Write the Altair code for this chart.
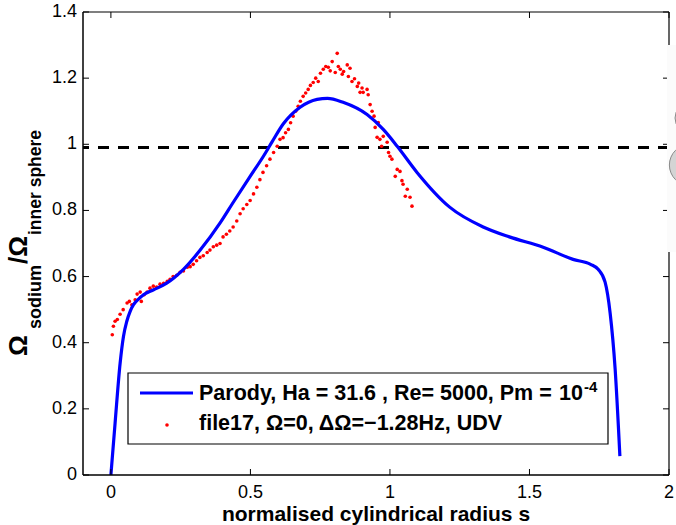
import altair as alt
import pandas as pd

# ---------------- data ----------------
# Parody simulation: Ha = 31.6, Re = 5000, Pm = 1e-4
parody_s = [0.0, 0.015, 0.033, 0.045, 0.057, 0.069, 0.081, 0.099, 0.117, 0.153, 0.200, 0.259,
            0.320, 0.392, 0.438, 0.499, 0.546, 0.578, 0.618, 0.678, 0.739, 0.776, 0.832,
            0.918, 0.976, 1.026, 1.097, 1.214, 1.334, 1.428, 1.549, 1.656, 1.719, 1.746, 1.771,
            1.789, 1.807, 1.824]
parody_omega = [0.0, 0.157, 0.338, 0.419, 0.465, 0.495, 0.515, 0.532, 0.545, 0.56, 0.58, 0.621,
                0.68, 0.763, 0.824, 0.903, 0.963, 1.008, 1.062, 1.112, 1.136, 1.139, 1.127,
                1.09, 1.045, 0.994, 0.915, 0.81, 0.75, 0.72, 0.689, 0.652, 0.637, 0.622, 0.583,
                0.49, 0.32, 0.057]

# file17 UDV measurement
udv_s = [0.005, 0.009, 0.015, 0.023, 0.033, 0.044, 0.058, 0.066, 0.075, 0.087, 0.094, 0.105,
         0.109, 0.119, 0.130, 0.140, 0.152, 0.164, 0.176, 0.189, 0.202, 0.212, 0.223, 0.236,
         0.248, 0.260, 0.274, 0.284, 0.295, 0.307, 0.319, 0.331, 0.345, 0.355, 0.367, 0.379,
         0.391, 0.402, 0.414, 0.426, 0.438, 0.451, 0.463, 0.474, 0.487, 0.499, 0.511, 0.523,
         0.534, 0.545, 0.558, 0.570, 0.583, 0.596, 0.606, 0.617, 0.626, 0.636, 0.644, 0.653,
         0.662, 0.671, 0.679, 0.689, 0.698, 0.707, 0.715, 0.725, 0.734, 0.743, 0.751, 0.761,
         0.770, 0.779, 0.786, 0.793, 0.804, 0.811, 0.815, 0.822, 0.829, 0.834, 0.847, 0.851,
         0.857, 0.864, 0.873, 0.883, 0.888, 0.893, 0.900, 0.904, 0.918, 0.922, 0.929, 0.936,
         0.943, 0.947, 0.954, 0.958, 0.964, 0.970, 0.976, 0.990, 0.995, 1.000, 1.007, 1.019,
         1.026, 1.036, 1.043, 1.047, 1.055, 1.062, 1.072, 1.079]
udv_omega = [0.424, 0.45, 0.465, 0.47, 0.486, 0.50, 0.52, 0.525, 0.515, 0.53, 0.547, 0.553,
             0.525, 0.545, 0.553, 0.565, 0.571, 0.568, 0.577, 0.58, 0.586, 0.592, 0.60, 0.604,
             0.613, 0.617, 0.628, 0.63, 0.637, 0.648, 0.658, 0.663, 0.673, 0.68, 0.69, 0.695,
             0.70, 0.72, 0.728, 0.738, 0.75, 0.768, 0.79, 0.805, 0.818, 0.83, 0.85, 0.87,
             0.893, 0.915, 0.935, 0.955, 0.975, 0.994, 1.015, 1.02, 1.035, 1.045, 1.065, 1.085,
             1.10, 1.115, 1.13, 1.145, 1.155, 1.166, 1.178, 1.187, 1.20, 1.19, 1.215, 1.227,
             1.235, 1.233, 1.222, 1.25, 1.217, 1.275, 1.235, 1.227, 1.212, 1.22, 1.24, 1.205,
             1.23, 1.19, 1.198, 1.175, 1.185, 1.157, 1.17, 1.157, 1.166, 1.15, 1.12, 1.10,
             1.085, 1.051, 1.021, 1.066, 1.015, 0.994, 1.024, 1.006, 0.975, 0.964, 0.955, 0.903,
             0.924, 0.918, 0.89, 0.879, 0.843, 0.864, 0.84, 0.813]

ref_level = [0.99]
x_ticks = [0, 0.5, 1, 1.5, 2]
y_ticks = [0, 0.2, 0.4, 0.6, 0.8, 1.0, 1.2, 1.4]

legend_line1 = "Parody, Ha = 31.6 , Re= 5000, Pm = "
legend_base = "10"
legend_sup = "-4"
legend_line2 = "file17, \u03a9=0, \u0394\u03a9=\u22121.28Hz, UDV"
x_title = "normalised cylindrical radius s"

# ---------------- chart ----------------
W, H = 586, 463
FONT = "Liberation Sans"
xs = alt.Scale(domain=[-0.1, 2], nice=False, zero=False)
ys = alt.Scale(domain=[0, 1.4], nice=False, zero=False)

df_parody = pd.DataFrame({"s": parody_s, "omega": parody_omega})
df_udv = pd.DataFrame({"s": udv_s, "omega": udv_omega})
df_ref = pd.DataFrame({"ref": ref_level})
df_xt = pd.DataFrame({"t": x_ticks})
df_yt = pd.DataFrame({"t": y_ticks})
one = pd.DataFrame({"k": [0]})

X = lambda f: alt.X(f, scale=xs, axis=None)
Y = lambda f: alt.Y(f, scale=ys, axis=None)

ref_rule = alt.Chart(df_ref).mark_rule(color="black", strokeWidth=3, strokeDash=[11, 9]).encode(
    y=Y("ref:Q"))

udv_pts = alt.Chart(df_udv).mark_circle(color="#ff0000", size=13, opacity=1, clip=True).encode(
    x=X("s:Q"), y=Y("omega:Q"))

parody_line = alt.Chart(df_parody).mark_line(color="#0000ff", strokeWidth=3.2, clip=True,
                                             interpolate="monotone").encode(
    x=X("s:Q"), y=Y("omega:Q"))

# frame (MATLAB box)
frame = [
    alt.Chart(one).mark_rule(color="black", strokeWidth=1.5).encode(
        x=alt.value(0), x2=alt.value(W), y=alt.value(H)),
    alt.Chart(one).mark_rule(color="black", strokeWidth=1.5).encode(
        x=alt.value(0), y=alt.value(0), y2=alt.value(H)),
    alt.Chart(one).mark_rule(color="black", strokeWidth=1.2).encode(
        x=alt.value(0), x2=alt.value(W), y=alt.value(0)),
    alt.Chart(one).mark_rule(color="black", strokeWidth=1.2).encode(
        x=alt.value(W), y=alt.value(0), y2=alt.value(H)),
]

TL = 6
ticks = [
    alt.Chart(df_xt).mark_rule(color="black", strokeWidth=1).encode(
        x=X("t:Q"), y=alt.value(H), y2=alt.value(H - TL)),
    alt.Chart(df_xt).mark_rule(color="black", strokeWidth=1).encode(
        x=X("t:Q"), y=alt.value(0), y2=alt.value(TL)),
    alt.Chart(df_yt).mark_rule(color="black", strokeWidth=1).encode(
        y=Y("t:Q"), x=alt.value(0), x2=alt.value(TL)),
    alt.Chart(df_yt).mark_rule(color="black", strokeWidth=1).encode(
        y=Y("t:Q"), x=alt.value(W), x2=alt.value(W - TL)),
]

# overlapping picture at the right edge (whitish panel with grey blobs)
overlay = [
    alt.Chart(one).mark_rect(fill="#fbfbfb").encode(
        x=alt.value(584), x2=alt.value(600), y=alt.value(33), y2=alt.value(240)),
    alt.Chart(one).mark_circle(fill="#d4d4d4", stroke="#8a8a8a", strokeWidth=1, opacity=1,
                               size=900).encode(x=alt.value(607), y=alt.value(106)),
    alt.Chart(one).mark_circle(fill="#d4d4d4", stroke="#8a8a8a", strokeWidth=1, opacity=1,
                               size=1700).encode(x=alt.value(607), y=alt.value(153)),
    alt.Chart(one).mark_circle(fill="#d4d4d4", stroke="#8a8a8a", strokeWidth=1, opacity=1,
                               size=700).encode(x=alt.value(608), y=alt.value(195)),
]

# tick labels
xlab = alt.Chart(df_xt).mark_text(font=FONT, fontSize=18, baseline="alphabetic", align="center",
                                  color="black").encode(
    x=X("t:Q"), y=alt.value(H + 23), text=alt.Text("t:Q", format="~g"))
ylab = alt.Chart(df_yt).mark_text(font=FONT, fontSize=18, baseline="middle", align="right",
                                  color="black").encode(
    y=Y("t:Q"), x=alt.value(-6), text=alt.Text("t:Q", format="~g"))

# legend (drawn manually)
LF = 21.5
leg = [
    alt.Chart(one).mark_rect(fill="white", stroke="black", strokeWidth=1.2).encode(
        x=alt.value(45), x2=alt.value(525), y=alt.value(361), y2=alt.value(432)),
    alt.Chart(one).mark_rule(color="#0000ff", strokeWidth=3.2).encode(
        x=alt.value(57), x2=alt.value(110), y=alt.value(381)),
    alt.Chart(one).mark_circle(color="#ff0000", size=13, opacity=1).encode(
        x=alt.value(84), y=alt.value(413)),
    alt.Chart(one).mark_text(text=legend_line1, font=FONT, fontSize=LF, fontWeight="bold",
                             align="left", baseline="alphabetic", color="black").encode(
        x=alt.value(116), y=alt.value(388)),
    alt.Chart(one).mark_text(text=legend_base, font=FONT, fontSize=LF, fontWeight="bold",
                             align="right", baseline="alphabetic", color="black").encode(
        x=alt.value(500), y=alt.value(388)),
    alt.Chart(one).mark_text(text=legend_sup, font=FONT, fontSize=15, fontWeight="bold",
                             align="left", baseline="alphabetic", color="black").encode(
        x=alt.value(501), y=alt.value(380)),
    alt.Chart(one).mark_text(text=legend_line2, font=FONT, fontSize=LF, fontWeight="bold",
                             align="left", baseline="alphabetic", color="black").encode(
        x=alt.value(116), y=alt.value(418)),
]

# axis titles
xt_text = alt.Chart(one).mark_text(text=x_title, font=FONT, fontSize=21, fontWeight="bold",
                                   align="center", baseline="alphabetic", color="black").encode(
    x=alt.value(W / 2), y=alt.value(509))


def ytitle(txt, size, xpix, ypix):
    return alt.Chart(one).mark_text(text=txt, font=FONT, fontSize=size, fontWeight="bold",
                                    align="left", baseline="alphabetic", angle=270,
                                    color="black").encode(x=alt.value(xpix - 83), y=alt.value(ypix - 12))


ytl = [
    ytitle("\u03a9", 26, 27, 356),
    ytitle("sodium", 18, 41, 329),
    ytitle("/\u03a9", 26, 27, 264),
    ytitle("inner sphere", 17.5, 41, 235),
]

chart = alt.layer(
    ref_rule, udv_pts, parody_line, *frame, *ticks, *overlay, xlab, ylab, *leg, xt_text, *ytl,
).properties(
    width=W, height=H,
    autosize=alt.AutoSizeParams(type="none"),
    padding={"left": 83, "top": 12, "right": 7, "bottom": 50},
    background="white",
).configure_view(strokeWidth=0)

chart.save("out.html", embed_options={"renderer": "svg", "actions": False})
